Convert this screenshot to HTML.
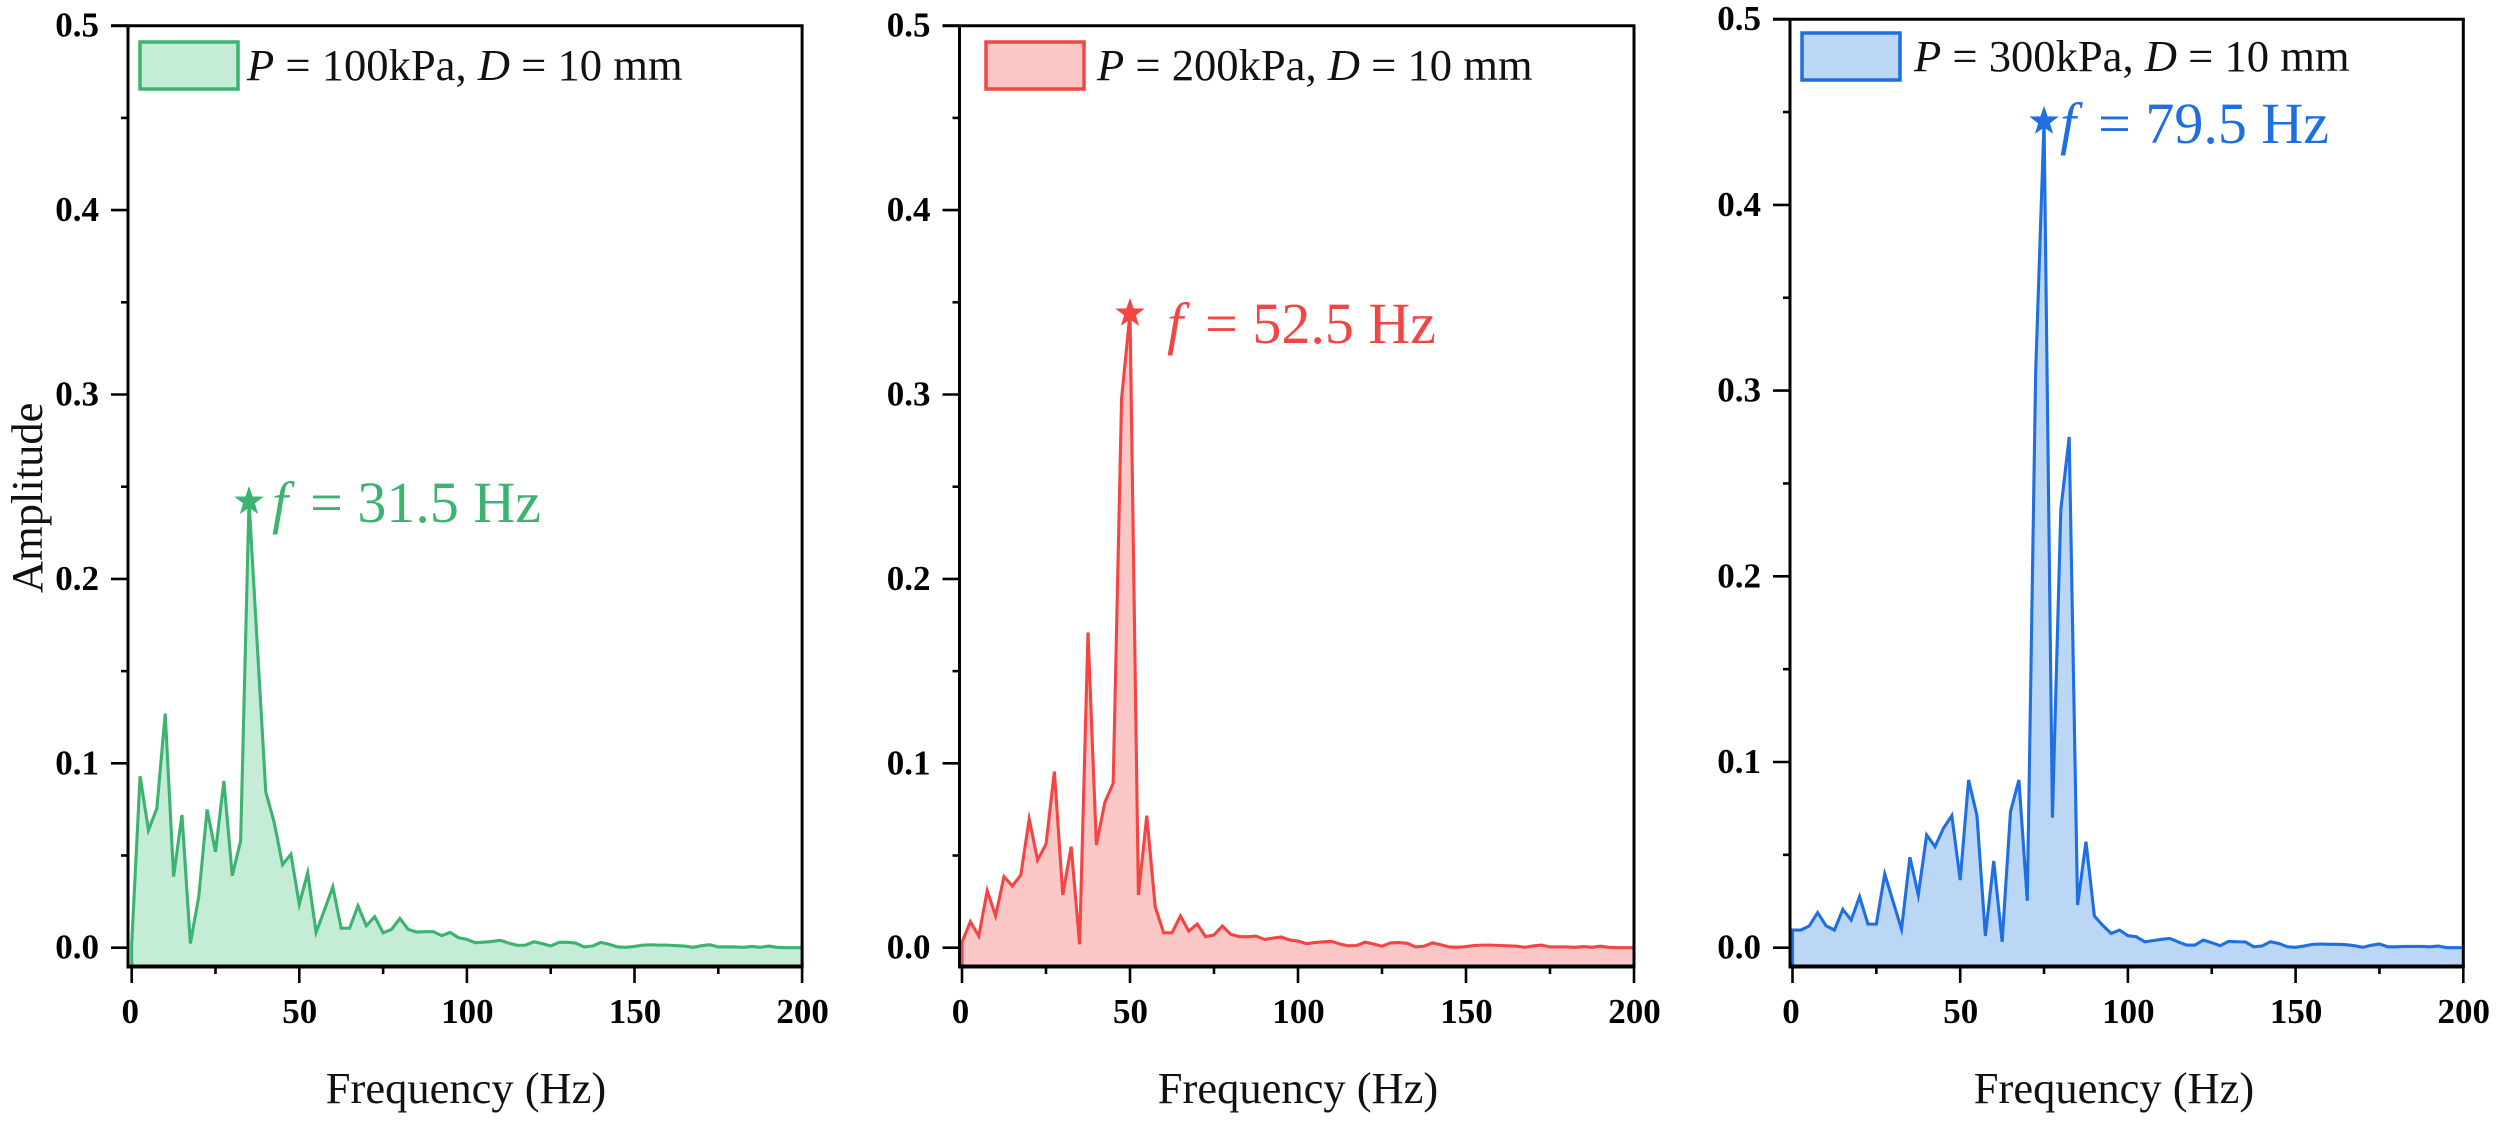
<!DOCTYPE html>
<html lang="en">
<head>
<meta charset="utf-8">
<title>Amplitude spectra at three pressures</title>
<style>
html,body{margin:0;padding:0;background:#fff;}
svg{display:block;}
text{font-family:"Liberation Serif",serif;}
.tick{font-size:35px;font-weight:bold;fill:#000;}
.title{font-size:44.5px;fill:#111;}
.legend{font-size:44.6px;fill:#111;}
.note{font-size:58px;}
.i{font-style:italic;}
</style>
</head>
<body>
<svg id="figure" xmlns="http://www.w3.org/2000/svg" width="2500" height="1122" viewBox="0 0 2500 1122">
  <rect x="0" y="0" width="2500" height="1122" fill="#fff"/>
  <g id="panels"></g>

  <text class="title" transform="translate(42,593) rotate(-90)">Amplitude</text>
  <text class="title" x="466" y="1103" text-anchor="middle">Frequency (Hz)</text>
  <text class="title" x="1298" y="1103" text-anchor="middle">Frequency (Hz)</text>
  <text class="title" x="2114" y="1103" text-anchor="middle">Frequency (Hz)</text>

  <g>
    <rect x="140" y="42" width="98" height="47" fill="#c5ecd6" stroke="#3cb371" stroke-width="3.5"/>
    <text class="legend" x="247" y="80"><tspan class="i">P</tspan> = 100kPa, <tspan class="i">D</tspan> = 10 mm</text>
  </g>
  <g>
    <rect x="986" y="42" width="98" height="47" fill="#fbc6c6" stroke="#f44545" stroke-width="3.5"/>
    <text class="legend" x="1097" y="80"><tspan class="i">P</tspan> = 200kPa, <tspan class="i">D</tspan> = 10 mm</text>
  </g>
  <g>
    <rect x="1802" y="33" width="98" height="47" fill="#bcd6f6" stroke="#1f6fe0" stroke-width="3.5"/>
    <text class="legend" x="1914" y="71"><tspan class="i">P</tspan> = 300kPa, <tspan class="i">D</tspan> = 10 mm</text>
  </g>

  <text class="note" x="272" y="522" fill="#3cb371"><tspan class="i">f</tspan><tspan dx="22">= 31.5 Hz</tspan></text>
  <text class="note" x="1167" y="343" fill="#f44545"><tspan class="i">f</tspan><tspan dx="22">= 52.5 Hz</tspan></text>
  <text class="note" x="2060" y="143" fill="#1f6fe0"><tspan class="i">f</tspan><tspan dx="22">= 79.5 Hz</tspan></text>
</svg>

<script>
const frequencyStepHz = 2.5;
const xTickLabels = ["0", "50", "100", "150", "200"];
const xMinorTicks = [25, 75, 125, 175];
const yTickLabels = ["0.0", "0.1", "0.2", "0.3", "0.4", "0.5"];
const yMinorTicks = [0.05, 0.15, 0.25, 0.35, 0.45];

const amplitude100kPa = [
  0.002, 0.093, 0.0637, 0.0755, 0.127, 0.0385, 0.072, 0.0023, 0.0276, 0.075,
  0.052, 0.0904, 0.039, 0.058, 0.242, 0.163, 0.0845, 0.068, 0.045, 0.0507,
  0.0236, 0.0406, 0.0083, 0.0204, 0.033, 0.0106, 0.0106, 0.0227, 0.0119, 0.0168,
  0.0081, 0.0099, 0.0159, 0.0099, 0.0085, 0.0087, 0.0087, 0.0065, 0.0083, 0.0054,
  0.0045, 0.0027, 0.003, 0.0034, 0.004, 0.0025, 0.0013, 0.0014, 0.0032, 0.0022,
  0.0009, 0.0029, 0.0029, 0.0025, 0.0004, 0.0009, 0.0029, 0.0018, 0.0004, 0.0002,
  0.0007, 0.0014, 0.0016, 0.0014, 0.0014, 0.0011, 0.0009, 0.0002, 0.0011, 0.0016,
  0.0004, 0.0005, 0.0004, 0.0002, 0.0007, 0.0002, 0.0009, 0.0002, 0, 0, 0
];

const amplitude200kPa = [
  0.003, 0.0141, 0.0063, 0.0309, 0.0172, 0.0385, 0.0335, 0.0394, 0.0698, 0.0476,
  0.0561, 0.0955, 0.0286, 0.0548, 0.0018, 0.171, 0.0557, 0.0788, 0.0892, 0.298,
  0.344, 0.0286, 0.0716, 0.0222, 0.0081, 0.0081, 0.0172, 0.009, 0.0128, 0.006,
  0.0069, 0.0118, 0.0072, 0.006, 0.006, 0.0063, 0.0045, 0.0052, 0.0058, 0.0042,
  0.0036, 0.0022, 0.0028, 0.0032, 0.0034, 0.002, 0.001, 0.0012, 0.003, 0.002,
  0.0008, 0.0026, 0.0028, 0.0024, 0.0004, 0.0008, 0.0026, 0.0016, 0.0004, 0.0002,
  0.0006, 0.0012, 0.0014, 0.0014, 0.0012, 0.001, 0.0008, 0.0002, 0.001, 0.0014,
  0.0004, 0.0004, 0.0004, 0.0002, 0.0006, 0.0002, 0.0008, 0.0002, 0, 0, 0
];

const amplitude300kPa = [
  0.0095, 0.0095, 0.0117, 0.0189, 0.0118, 0.0095, 0.0206, 0.0149, 0.0275, 0.0127,
  0.0127, 0.0397, 0.0248, 0.0099, 0.0487, 0.0284, 0.0607, 0.0544, 0.0643, 0.0711,
  0.0364, 0.0903, 0.0711, 0.0063, 0.0467, 0.0032, 0.0733, 0.0903, 0.0253, 0.31,
  0.445, 0.07, 0.236, 0.275, 0.023, 0.0571, 0.0171, 0.012, 0.0077, 0.0095,
  0.0065, 0.0059, 0.0032, 0.0038, 0.0045, 0.005, 0.0031, 0.0014, 0.0014, 0.0041,
  0.0027, 0.0011, 0.0034, 0.0032, 0.0031, 0.0005, 0.0009, 0.0032, 0.0023, 0.0005,
  0.0002, 0.0009, 0.0018, 0.002, 0.0018, 0.0018, 0.0016, 0.0011, 0.0002, 0.0013,
  0.002, 0.0005, 0.0005, 0.0007, 0.0007, 0.0007, 0.0005, 0.0009, 0, 0, 0
];

const panelSeries = [amplitude100kPa, amplitude200kPa, amplitude300kPa];
const panelNames = ["100kpa", "200kpa", "300kpa"];
const panelLine = ["#3cb371", "#f44545", "#1f6fe0"];
const panelFill = ["#c5ecd6", "#fbc6c6", "#bcd6f6"];
const panelX0 = [131.7, 962, 1792.5];
const panelPxPerHz = [3.352, 3.36, 3.354];
const panelLeftAxis = [128, 959.5, 1790];
const panelPxPerUnit = [1844, 1844, 1857];

const SVG_NS = "http://www.w3.org/2000/svg";
const root = document.getElementById("panels");
const Y_ZERO = 947.7;
const AXIS_BOTTOM = 966.5;

function shape(parent, tag, attrs) {
  const el = document.createElementNS(SVG_NS, tag);
  for (const key in attrs) el.setAttribute(key, attrs[key]);
  parent.appendChild(el);
  return el;
}

panelSeries.forEach(function (series, p) {
  const name = panelNames[p];
  const x = function (hz) { return panelX0[p] + hz * panelPxPerHz[p]; };
  const y = function (v) { return Y_ZERO - v * panelPxPerUnit[p]; };
  const left = panelLeftAxis[p];
  const right = x(200);
  const top = y(0.5);

  const g = shape(root, "g", {});
  
  

  let pts = "";
  series.forEach(function (v, i) {
    pts += " L" + x(i * frequencyStepHz).toFixed(2) + "," + y(v).toFixed(2);
  });
  const start = "M" + x(0).toFixed(2) + "," + (AXIS_BOTTOM - 2);
  const end = " L" + x((series.length - 1) * frequencyStepHz).toFixed(2) + "," + (AXIS_BOTTOM - 2);

  const area = shape(g, "path", { d: start + pts + end + " Z", fill: panelFill[p], stroke: "none" });
  
  

  const line = shape(g, "path", { d: start + pts, fill: "none", stroke: panelLine[p], "stroke-width": 3.1, "stroke-linejoin": "miter", "stroke-miterlimit": 6 });
  
  

  let peak = 0;
  series.forEach(function (v, i) { if (v > series[peak]) peak = i; });
  const cx = x(peak * frequencyStepHz);
  const cy = y(series[peak]);
  let star = "";
  for (let k = 0; k < 10; k++) {
    const r = k % 2 === 0 ? 15.5 : 6.2;
    const a = -Math.PI / 2 + k * Math.PI / 5;
    star += (cx + r * Math.cos(a)).toFixed(2) + "," + (cy + r * Math.sin(a)).toFixed(2) + " ";
  }
  const starMark = shape(g, "polygon", { points: star, fill: panelLine[p] });
  
  

  const frame = [
    ["axis-left", left, top, left, AXIS_BOTTOM, 3],
    ["axis-right", right, top, right, AXIS_BOTTOM, 3],
    ["axis-top", left - 17, top, right + 1.5, top, 3],
    ["axis-bottom", left - 1.5, AXIS_BOTTOM, right + 1.5, AXIS_BOTTOM, 4]
  ];
  frame.forEach(function (f) {
    const seg = shape(g, "line", { x1: f[1], y1: f[2], x2: f[3], y2: f[4], stroke: "#000", "stroke-width": f[5] });
    
    
  });

  xTickLabels.forEach(function (label) {
    const px = x(Number(label));
    const tick = shape(g, "line", { x1: px, y1: AXIS_BOTTOM, x2: px, y2: 983, stroke: "#000", "stroke-width": 2.6 });
    
    
    const text = shape(g, "text", { x: px + (label === "0" ? -1.5 : 0.5), y: 1023, "text-anchor": "middle", "class": "tick" });
    text.textContent = label;
    
    
  });
  xMinorTicks.forEach(function (hz) {
    const tick = shape(g, "line", { x1: x(hz), y1: AXIS_BOTTOM, x2: x(hz), y2: 974, stroke: "#000", "stroke-width": 2.6 });
    
    
  });

  yTickLabels.forEach(function (label) {
    const py = y(Number(label));
    const tick = shape(g, "line", { x1: left - 17, y1: py, x2: left, y2: py, stroke: "#000", "stroke-width": 2.6 });
    
    
    const text = shape(g, "text", { x: left - 29, y: py + 11, "text-anchor": "end", "class": "tick" });
    text.textContent = label;
    
    
  });
  yMinorTicks.forEach(function (v) {
    const tick = shape(g, "line", { x1: left - 7, y1: y(v), x2: left, y2: y(v), stroke: "#000", "stroke-width": 2.6 });
    
    
  });
});
</script>
</body>
</html>
